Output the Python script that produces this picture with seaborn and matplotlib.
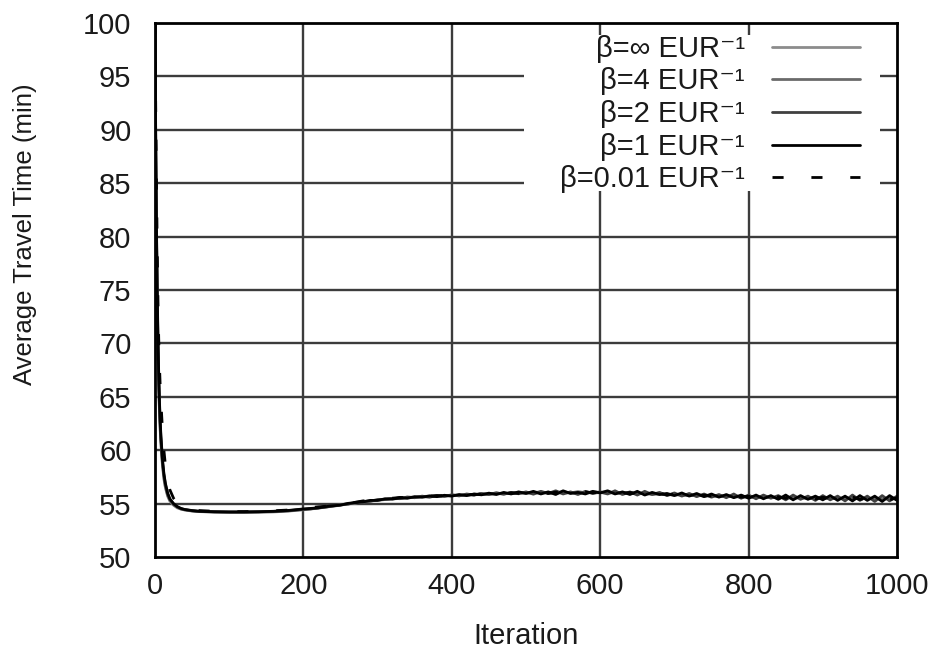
import matplotlib
matplotlib.use("Agg")
import matplotlib.pyplot as plt
from matplotlib.patches import Rectangle
from matplotlib.lines import Line2D
import seaborn as sns
import pandas as pd

# ---------------- data ----------------
iter_early = [0, 1, 2, 3, 4, 5, 6, 7, 8, 10, 12, 14, 17, 20, 25, 30, 35, 40,
              50, 60, 80, 100, 120, 140, 160, 180, 200]
iter_late = list(range(210, 1001, 10))
iterations = iter_early + iter_late

labels = ["β=∞ EUR⁻¹", "β=4 EUR⁻¹", "β=2 EUR⁻¹", "β=1 EUR⁻¹", "β=0.01 EUR⁻¹"]

beta_inf = [99.5, 87.5, 79.5, 73.5, 69.0, 66.0, 63.6, 61.9, 60.6, 58.6, 57.3, 56.5, 55.7, 55.25,
            54.85, 54.6, 54.48, 54.4, 54.3, 54.25, 54.2, 54.18, 54.18, 54.2, 54.22, 54.3, 54.42,
            54.5, 54.57, 54.68, 54.75, 54.86, 54.96, 55.06, 55.15, 55.24, 55.3,
            55.38, 55.44, 55.48, 55.54, 55.58, 55.62, 55.64, 55.7, 55.72, 55.74,
            55.76, 55.82, 55.82, 55.88, 55.86, 55.92, 55.95, 55.94, 55.98, 56.0,
            55.98, 56.02, 56.0, 55.97, 56.03, 56.0, 55.98, 56.04, 56.0, 56.02,
            55.98, 56.02, 55.96, 55.98, 55.93, 55.94, 55.9, 55.86, 55.87, 55.8,
            55.82, 55.76, 55.78, 55.72, 55.73, 55.68, 55.7, 55.64, 55.66, 55.6,
            55.62, 55.57, 55.6, 55.55, 55.57, 55.53, 55.56, 55.52, 55.54, 55.5,
            55.52, 55.48, 55.5, 55.47, 55.5, 55.46, 55.48, 55.45, 55.47, 55.45]

beta_4 = [99.8, 88.0, 80.0, 74.0, 69.5, 66.3, 63.9, 62.1, 60.8, 58.8, 57.5, 56.6, 55.8, 55.3,
          54.9, 54.65, 54.5, 54.42, 54.32, 54.26, 54.22, 54.2, 54.2, 54.22, 54.25, 54.32, 54.45,
          54.53, 54.58, 54.7, 54.76, 54.9, 54.98, 55.05, 55.2, 55.25, 55.32,
          55.42, 55.48, 55.52, 55.58, 55.6, 55.66, 55.7, 55.72, 55.7, 55.78,
          55.8, 55.78, 55.88, 55.86, 55.92, 55.95, 55.9, 56.0, 56.02, 55.98,
          56.05, 56.08, 55.98, 56.05, 56.1, 56.0, 56.12, 56.02, 56.08, 56.05,
          56.1, 56.0, 55.98, 56.05, 55.92, 55.95, 55.88, 55.95, 55.82, 55.85,
          55.85, 55.75, 55.8, 55.7, 55.75, 55.68, 55.72, 55.65, 55.62, 55.66,
          55.58, 55.62, 55.6, 55.52, 55.6, 55.5, 55.58, 55.48, 55.55, 55.5,
          55.52, 55.45, 55.55, 55.42, 55.5, 55.45, 55.48, 55.4, 55.5, 55.44]

beta_2 = [100.0, 88.5, 80.5, 74.5, 70.0, 66.8, 64.3, 62.5, 61.1, 59.0, 57.7, 56.8, 55.9, 55.4,
          54.95, 54.7, 54.52, 54.44, 54.33, 54.27, 54.23, 54.21, 54.21, 54.23, 54.27, 54.34, 54.47,
          54.5, 54.62, 54.66, 54.8, 54.9, 54.95, 55.12, 55.2, 55.22, 55.38,
          55.38, 55.5, 55.46, 55.62, 55.55, 55.7, 55.6, 55.75, 55.68, 55.82,
          55.72, 55.9, 55.8, 55.95, 55.85, 56.02, 55.88, 56.05, 55.92, 56.1,
          55.88, 56.15, 55.95, 56.2, 55.9, 56.1, 55.85, 56.15, 55.95, 56.1,
          55.9, 56.2, 55.85, 56.1, 55.8, 56.15, 55.85, 56.05, 55.75, 56.0,
          55.7, 55.95, 55.65, 55.9, 55.6, 55.85, 55.55, 55.9, 55.5, 55.8,
          55.45, 55.8, 55.5, 55.75, 55.35, 55.8, 55.4, 55.7, 55.3, 55.75,
          55.35, 55.7, 55.25, 55.8, 55.3, 55.7, 55.2, 55.75, 55.25, 55.7]

beta_1 = [100.0, 89.0, 81.0, 75.0, 70.5, 67.2, 64.6, 62.8, 61.3, 59.2, 57.8, 56.9, 56.0, 55.45,
          55.0, 54.72, 54.55, 54.45, 54.35, 54.28, 54.24, 54.22, 54.22, 54.24, 54.28, 54.36, 54.5,
          54.55, 54.6, 54.72, 54.8, 54.85, 55.02, 55.1, 55.15, 55.3, 55.3,
          55.45, 55.42, 55.55, 55.5, 55.65, 55.6, 55.72, 55.65, 55.78, 55.7,
          55.85, 55.75, 55.9, 55.82, 55.98, 55.85, 56.05, 55.9, 56.1, 55.95,
          56.15, 55.9, 56.1, 55.85, 56.2, 55.95, 56.05, 55.9, 56.15, 56.0,
          56.2, 55.9, 56.1, 55.85, 56.15, 55.8, 56.05, 55.85, 55.95, 55.75,
          56.0, 55.7, 55.95, 55.65, 55.9, 55.6, 55.85, 55.55, 55.8, 55.5,
          55.8, 55.45, 55.75, 55.4, 55.8, 55.35, 55.75, 55.4, 55.7, 55.35,
          55.75, 55.3, 55.7, 55.25, 55.75, 55.3, 55.7, 55.2, 55.75, 55.3]

beta_001 = [100.0, 92.0, 85.0, 79.0, 74.0, 70.5, 68.0, 66.0, 64.5, 62.0, 60.0, 58.6, 57.2, 56.3,
            55.5, 55.05, 54.8, 54.65, 54.45, 54.35, 54.28, 54.25, 54.25, 54.28, 54.33, 54.4, 54.55,
            54.62, 54.7, 54.75, 54.85, 54.95, 55.05, 55.12, 55.25, 55.3, 55.4,
            55.45, 55.5, 55.58, 55.55, 55.65, 55.62, 55.7, 55.75, 55.72, 55.8,
            55.78, 55.85, 55.82, 55.92, 55.88, 55.95, 55.92, 56.02, 55.95, 56.05,
            56.0, 56.1, 55.95, 56.08, 56.02, 56.12, 55.98, 56.1, 56.0, 56.08,
            56.05, 56.12, 55.95, 56.05, 55.9, 56.0, 55.85, 55.95, 55.82, 55.9,
            55.78, 55.85, 55.72, 55.8, 55.7, 55.78, 55.65, 55.72, 55.6, 55.7,
            55.55, 55.68, 55.5, 55.65, 55.48, 55.62, 55.45, 55.6, 55.42, 55.6,
            55.45, 55.58, 55.4, 55.62, 55.38, 55.55, 55.42, 55.58, 55.35, 55.55]

series = [beta_inf, beta_4, beta_2, beta_1, beta_001]

x_ticks = [0, 200, 400, 600, 800, 1000]
y_ticks = [50, 55, 60, 65, 70, 75, 80, 85, 90, 95, 100]

# ---------------- style ----------------
sns.set_theme(style="white")
plt.rcParams["font.family"] = ["Liberation Sans", "DejaVu Sans"]
FS = 21
TXT = "#1a1a1a"

colors = ["#8c8c8c", "#6a6a6a", "#404040", "#000000", "#000000"]
styles = ["-", "-", "-", "-", (0, (4, 10))]

fig = plt.figure(figsize=(9.41, 6.52), dpi=100)
ax = fig.add_axes([155 / 941, 95 / 652, 742 / 941, 534 / 652])

# manual grid (below the key area)
for xv in x_ticks[1:-1]:
    ax.axvline(xv, color="#3c3c3c", lw=1.7, zorder=1)
for yv in y_ticks[1:-1]:
    ax.axhline(yv, color="#3c3c3c", lw=1.7, zorder=1)

# white key area hiding the grid
ax.add_patch(Rectangle((0.497, 0.685), 0.48, 0.292, transform=ax.transAxes,
                       facecolor="white", edgecolor="none", zorder=1.5))

for vals, c, ls in zip(series, colors, styles):
    df = pd.DataFrame({"Iteration": iterations, "value": vals})
    sns.lineplot(data=df, x="Iteration", y="value", ax=ax, color=c,
                 linestyle=ls, lw=2.0, zorder=2, legend=False)

ax.set_xlim(0, 1000)
ax.set_ylim(50, 100)
ax.set_xticks(x_ticks)
ax.set_yticks(y_ticks)
ax.tick_params(axis="both", length=0, labelsize=FS, colors=TXT)
ax.tick_params(axis="x", pad=11)
ax.tick_params(axis="y", pad=17)

ax.set_xlabel("Iteration", fontsize=FS, color=TXT)
ax.xaxis.label.set_va("center")
ax.xaxis.set_label_coords(0.5, -0.148)
ax.set_ylabel("Average Travel Time (min)", fontsize=18.5, color=TXT)
ax.yaxis.label.set_va("center")
ax.yaxis.set_label_coords(-0.175, 0.605)

for s in ax.spines.values():
    s.set_color("black")
    s.set_linewidth(2)
    s.set_zorder(6)

handles = [Line2D([], [], color=c, linestyle=ls, lw=2.0) for c, ls in zip(colors, styles)]
leg = ax.legend(handles, labels, loc="upper right", bbox_to_anchor=(0.95, 0.978),
                frameon=False, fontsize=FS, markerfirst=False, handlelength=3.0,
                handletextpad=0.95, labelspacing=0.16, borderpad=0, borderaxespad=0)
for t in leg.get_texts():
    t.set_color(TXT)
leg.set_zorder(5)

fig.savefig("out.png", dpi=100)
